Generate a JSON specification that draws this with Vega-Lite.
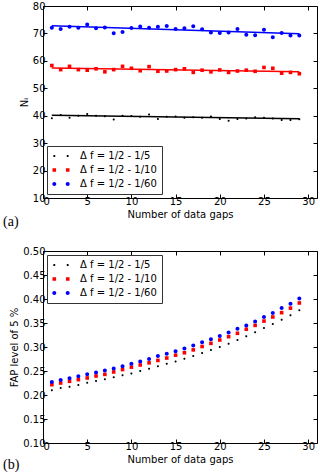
{
  "$schema": "https://vega.github.io/schema/vega-lite/v6.json",
  "padding": {"left": 2, "top": 0, "right": 0, "bottom": 0},
  "background": "white",
  "config": {
    "font": "DejaVu Sans",
    "view": {"stroke": "black", "strokeWidth": 1},
    "axis": {"labelFont": "DejaVu Sans", "labelFontSize": 10, "labelColor": "black", "titleFont": "DejaVu Sans", "titleFontSize": 10, "titleFontWeight": "normal", "titleColor": "black", "domain": false, "grid": false, "tickColor": "black", "tickSize": -4, "labelPadding": 2, "titlePadding": 3},
    "legend": {"title": null, "offset": 4, "padding": 5, "strokeColor": "#333333", "fillColor": "white", "cornerRadius": 0, "rowPadding": 4, "labelFont": "DejaVu Sans", "labelFontSize": 10, "labelColor": "black", "symbolSize": 100, "symbolOpacity": 1, "symbolStrokeWidth": 0, "symbolOffset": 4, "labelOffset": 14},
    "title": {"font": "Liberation Serif", "fontSize": 14, "fontWeight": "normal", "color": "black"}
  },
  "datasets": {
    "ni": [
      {"x":1,"s":"1/5","v":39.1},{"x":2,"s":"1/5","v":40.3},{"x":3,"s":"1/5","v":39.3},{"x":4,"s":"1/5","v":40.0},{"x":5,"s":"1/5","v":40.6},{"x":6,"s":"1/5","v":40.0},{"x":7,"s":"1/5","v":39.8},{"x":8,"s":"1/5","v":38.6},{"x":9,"s":"1/5","v":40.0},{"x":10,"s":"1/5","v":39.9},{"x":11,"s":"1/5","v":39.6},{"x":12,"s":"1/5","v":40.4},{"x":13,"s":"1/5","v":38.8},{"x":14,"s":"1/5","v":39.6},{"x":15,"s":"1/5","v":39.7},{"x":16,"s":"1/5","v":39.3},{"x":17,"s":"1/5","v":39.4},{"x":18,"s":"1/5","v":39.3},{"x":19,"s":"1/5","v":39.7},{"x":20,"s":"1/5","v":38.8},{"x":21,"s":"1/5","v":38.2},{"x":22,"s":"1/5","v":38.8},{"x":23,"s":"1/5","v":39.0},{"x":24,"s":"1/5","v":39.4},{"x":25,"s":"1/5","v":39.3},{"x":26,"s":"1/5","v":39.0},{"x":27,"s":"1/5","v":38.4},{"x":28,"s":"1/5","v":38.4},{"x":29,"s":"1/5","v":38.7},
      {"x":1,"s":"1/10","v":58.3},{"x":2,"s":"1/10","v":56.8},{"x":3,"s":"1/10","v":58.0},{"x":4,"s":"1/10","v":56.8},{"x":5,"s":"1/10","v":56.6},{"x":6,"s":"1/10","v":57.1},{"x":7,"s":"1/10","v":56.0},{"x":8,"s":"1/10","v":56.8},{"x":9,"s":"1/10","v":58.0},{"x":10,"s":"1/10","v":57.3},{"x":11,"s":"1/10","v":56.4},{"x":12,"s":"1/10","v":57.9},{"x":13,"s":"1/10","v":56.2},{"x":14,"s":"1/10","v":56.3},{"x":15,"s":"1/10","v":56.8},{"x":16,"s":"1/10","v":57.1},{"x":17,"s":"1/10","v":55.8},{"x":18,"s":"1/10","v":56.6},{"x":19,"s":"1/10","v":56.0},{"x":20,"s":"1/10","v":56.7},{"x":21,"s":"1/10","v":55.8},{"x":22,"s":"1/10","v":56.3},{"x":23,"s":"1/10","v":56.6},{"x":24,"s":"1/10","v":56.2},{"x":25,"s":"1/10","v":57.6},{"x":26,"s":"1/10","v":57.3},{"x":27,"s":"1/10","v":55.5},{"x":28,"s":"1/10","v":55.8},{"x":29,"s":"1/10","v":55.3},
      {"x":1,"s":"1/60","v":72.1},{"x":2,"s":"1/60","v":71.6},{"x":3,"s":"1/60","v":72.4},{"x":4,"s":"1/60","v":72.1},{"x":5,"s":"1/60","v":73.3},{"x":6,"s":"1/60","v":71.9},{"x":7,"s":"1/60","v":72.2},{"x":8,"s":"1/60","v":70.1},{"x":9,"s":"1/60","v":70.5},{"x":10,"s":"1/60","v":72.0},{"x":11,"s":"1/60","v":72.5},{"x":12,"s":"1/60","v":72.1},{"x":13,"s":"1/60","v":72.4},{"x":14,"s":"1/60","v":72.7},{"x":15,"s":"1/60","v":71.6},{"x":16,"s":"1/60","v":71.9},{"x":17,"s":"1/60","v":72.6},{"x":18,"s":"1/60","v":71.5},{"x":19,"s":"1/60","v":70.3},{"x":20,"s":"1/60","v":70.2},{"x":21,"s":"1/60","v":70.3},{"x":22,"s":"1/60","v":71.6},{"x":23,"s":"1/60","v":69.5},{"x":24,"s":"1/60","v":69.3},{"x":25,"s":"1/60","v":71.3},{"x":26,"s":"1/60","v":68.6},{"x":27,"s":"1/60","v":70.2},{"x":28,"s":"1/60","v":69.2},{"x":29,"s":"1/60","v":69.2}
    ],
    "fit": [
      {"x":1,"s":"1/5","v":40.2},{"x":29,"s":"1/5","v":38.9},
      {"x":1,"s":"1/10","v":57.4},{"x":29,"s":"1/10","v":56.0},
      {"x":1,"s":"1/60","v":72.8},{"x":29,"s":"1/60","v":69.9}
    ],
    "fap": [
      {"x":1,"s":"1/5","v":0.2097},{"x":2,"s":"1/5","v":0.2146},{"x":3,"s":"1/5","v":0.2174},{"x":4,"s":"1/5","v":0.2208},{"x":5,"s":"1/5","v":0.2257},{"x":6,"s":"1/5","v":0.229},{"x":7,"s":"1/5","v":0.2326},{"x":8,"s":"1/5","v":0.2368},{"x":9,"s":"1/5","v":0.241},{"x":10,"s":"1/5","v":0.245},{"x":11,"s":"1/5","v":0.25},{"x":12,"s":"1/5","v":0.2549},{"x":13,"s":"1/5","v":0.2597},{"x":14,"s":"1/5","v":0.2653},{"x":15,"s":"1/5","v":0.27},{"x":16,"s":"1/5","v":0.2757},{"x":17,"s":"1/5","v":0.2813},{"x":18,"s":"1/5","v":0.2875},{"x":19,"s":"1/5","v":0.2937},{"x":20,"s":"1/5","v":0.3},{"x":21,"s":"1/5","v":0.307},{"x":22,"s":"1/5","v":0.3146},{"x":23,"s":"1/5","v":0.3222},{"x":24,"s":"1/5","v":0.3306},{"x":25,"s":"1/5","v":0.3396},{"x":26,"s":"1/5","v":0.348},{"x":27,"s":"1/5","v":0.357},{"x":28,"s":"1/5","v":0.366},{"x":29,"s":"1/5","v":0.3764},
      {"x":1,"s":"1/10","v":0.2215},{"x":2,"s":"1/10","v":0.225},{"x":3,"s":"1/10","v":0.2285},{"x":4,"s":"1/10","v":0.232},{"x":5,"s":"1/10","v":0.2355},{"x":6,"s":"1/10","v":0.2396},{"x":7,"s":"1/10","v":0.243},{"x":8,"s":"1/10","v":0.248},{"x":9,"s":"1/10","v":0.253},{"x":10,"s":"1/10","v":0.258},{"x":11,"s":"1/10","v":0.2625},{"x":12,"s":"1/10","v":0.267},{"x":13,"s":"1/10","v":0.272},{"x":14,"s":"1/10","v":0.277},{"x":15,"s":"1/10","v":0.283},{"x":16,"s":"1/10","v":0.288},{"x":17,"s":"1/10","v":0.294},{"x":18,"s":"1/10","v":0.301},{"x":19,"s":"1/10","v":0.3076},{"x":20,"s":"1/10","v":0.3146},{"x":21,"s":"1/10","v":0.3215},{"x":22,"s":"1/10","v":0.3285},{"x":23,"s":"1/10","v":0.337},{"x":24,"s":"1/10","v":0.345},{"x":25,"s":"1/10","v":0.354},{"x":26,"s":"1/10","v":0.3625},{"x":27,"s":"1/10","v":0.3715},{"x":28,"s":"1/10","v":0.381},{"x":29,"s":"1/10","v":0.3917},
      {"x":1,"s":"1/60","v":0.227},{"x":2,"s":"1/60","v":0.231},{"x":3,"s":"1/60","v":0.235},{"x":4,"s":"1/60","v":0.239},{"x":5,"s":"1/60","v":0.243},{"x":6,"s":"1/60","v":0.247},{"x":7,"s":"1/60","v":0.251},{"x":8,"s":"1/60","v":0.255},{"x":9,"s":"1/60","v":0.26},{"x":10,"s":"1/60","v":0.265},{"x":11,"s":"1/60","v":0.27},{"x":12,"s":"1/60","v":0.275},{"x":13,"s":"1/60","v":0.281},{"x":14,"s":"1/60","v":0.286},{"x":15,"s":"1/60","v":0.291},{"x":16,"s":"1/60","v":0.297},{"x":17,"s":"1/60","v":0.303},{"x":18,"s":"1/60","v":0.31},{"x":19,"s":"1/60","v":0.316},{"x":20,"s":"1/60","v":0.323},{"x":21,"s":"1/60","v":0.33},{"x":22,"s":"1/60","v":0.338},{"x":23,"s":"1/60","v":0.345},{"x":24,"s":"1/60","v":0.353},{"x":25,"s":"1/60","v":0.3625},{"x":26,"s":"1/60","v":0.371},{"x":27,"s":"1/60","v":0.381},{"x":28,"s":"1/60","v":0.39},{"x":29,"s":"1/60","v":0.401}
    ]
  },
  "bounds": "flush",
  "spacing": 53,
  "resolve": {"scale": {"color": "independent", "shape": "independent", "fill": "independent", "stroke": "independent"}, "legend": {"color": "independent", "shape": "independent", "fill": "independent", "stroke": "independent"}},
  "vconcat": [
    {
      "width": 274,
      "height": 192,
      "title": {"text": "(a)", "orient": "bottom", "anchor": "start", "frame": "group", "dx": -40, "offset": -4},
      "resolve": {"axis": {"x": "independent", "y": "independent"}, "scale": {"shape": "independent", "fill": "independent"}, "legend": {"shape": "independent", "fill": "independent"}},
      "layer": [
        {
          "data": {"name": "ni"},
          "mark": {"type": "point", "filled": true, "size": 16, "opacity": 1, "strokeWidth": 0},
          "encoding": {
            "x": {"field": "x", "type": "quantitative", "scale": {"domain": [0, 31], "nice": false}, "axis": {"values": [0, 5, 10, 15, 20, 25, 30], "title": "Number of data gaps"}},
            "y": {"field": "v", "type": "quantitative", "scale": {"domain": [10, 80], "nice": false, "zero": false}, "axis": {"values": [10, 20, 30, 40, 50, 60, 70, 80], "title": "Nᵢ", "format": "d"}},
            "color": {"field": "s", "type": "nominal", "scale": {"domain": ["1/5", "1/10", "1/60"], "range": ["#000000", "#ff0000", "#0000ff"]}, "legend": null},
            "shape": {"field": "s", "type": "nominal", "scale": {"domain": ["1/5", "1/10", "1/60"], "range": ["M-0.5,0A0.5,0.5,0,1,0,0.5,0A0.5,0.5,0,1,0,-0.5,0Z", "M-0.9,-0.9H0.9V0.9H-0.9Z", "M-1,0A1,1,0,1,0,1,0A1,1,0,1,0,-1,0Z"]}, "legend": null}
          }
        },
        {
          "data": {"name": "fit"},
          "mark": {"type": "line", "strokeWidth": 1.5},
          "encoding": {
            "x": {"field": "x", "type": "quantitative", "scale": {"domain": [0, 31], "nice": false}, "axis": null},
            "y": {"field": "v", "type": "quantitative", "scale": {"domain": [10, 80], "nice": false, "zero": false}, "axis": null},
            "stroke": {"field": "s", "type": "nominal", "scale": {"domain": ["1/5", "1/10", "1/60"], "range": ["#000000", "#ff0000", "#0000ff"]}, "legend": null}
          }
        },
        {
          "data": {"name": "ni"},
          "mark": {"type": "point", "filled": true, "opacity": 0},
          "encoding": {
            "x": {"field": "x", "type": "quantitative", "scale": {"domain": [0, 31], "nice": false}, "axis": {"orient": "top", "values": [0, 5, 10, 15, 20, 25, 30], "labels": false, "title": null}},
            "y": {"field": "v", "type": "quantitative", "scale": {"domain": [10, 80], "nice": false, "zero": false}, "axis": {"orient": "right", "values": [10, 20, 30, 40, 50, 60, 70, 80], "labels": false, "title": null}},
            "fill": {"field": "s", "type": "nominal", "scale": {"domain": ["1/5", "1/10", "1/60"], "range": ["#000000", "#ff0000", "#0000ff"]}, "legend": {"orient": "bottom-left", "labelExpr": "'Δ f = 1/2 - ' + datum.label"}},
            "shape": {"field": "s", "type": "nominal", "scale": {"domain": ["1/5", "1/10", "1/60"], "range": ["M-1.56,0A0.22,0.22,0,1,0,-1.12,0A0.22,0.22,0,1,0,-1.56,0ZM1.12,0A0.22,0.22,0,1,0,1.56,0A0.22,0.22,0,1,0,1.12,0Z", "M-1.7,-0.36H-0.98V0.36H-1.7ZM0.98,-0.36H1.7V0.36H0.98Z", "M-1.74,0A0.4,0.4,0,1,0,-0.94,0A0.4,0.4,0,1,0,-1.74,0ZM0.94,0A0.4,0.4,0,1,0,1.74,0A0.4,0.4,0,1,0,0.94,0Z"]}, "legend": {"orient": "bottom-left", "labelExpr": "'Δ f = 1/2 - ' + datum.label"}}
          }
        }
      ]
    },
    {
      "width": 274,
      "height": 192,
      "title": {"text": "(b)", "orient": "bottom", "anchor": "start", "frame": "group", "dx": -40, "offset": -6},
      "resolve": {"axis": {"x": "independent", "y": "independent"}, "scale": {"shape": "independent", "fill": "independent"}, "legend": {"shape": "independent", "fill": "independent"}},
      "layer": [
        {
          "data": {"name": "fap"},
          "mark": {"type": "point", "filled": true, "size": 16, "opacity": 1, "strokeWidth": 0},
          "encoding": {
            "x": {"field": "x", "type": "quantitative", "scale": {"domain": [0, 31], "nice": false}, "axis": {"values": [0, 5, 10, 15, 20, 25, 30], "title": "Number of data gaps"}},
            "y": {"field": "v", "type": "quantitative", "scale": {"domain": [0.1, 0.5], "nice": false, "zero": false}, "axis": {"values": [0.1, 0.15, 0.2, 0.25, 0.3, 0.35, 0.4, 0.45, 0.5], "title": "FAP level of 5 %", "format": ".2f"}},
            "color": {"field": "s", "type": "nominal", "scale": {"domain": ["1/5", "1/10", "1/60"], "range": ["#000000", "#ff0000", "#0000ff"]}, "legend": null},
            "shape": {"field": "s", "type": "nominal", "scale": {"domain": ["1/5", "1/10", "1/60"], "range": ["M-0.5,0A0.5,0.5,0,1,0,0.5,0A0.5,0.5,0,1,0,-0.5,0Z", "M-0.9,-0.9H0.9V0.9H-0.9Z", "M-1,0A1,1,0,1,0,1,0A1,1,0,1,0,-1,0Z"]}, "legend": null}
          }
        },
        {
          "data": {"name": "fap"},
          "mark": {"type": "point", "filled": true, "opacity": 0},
          "encoding": {
            "x": {"field": "x", "type": "quantitative", "scale": {"domain": [0, 31], "nice": false}, "axis": {"orient": "top", "values": [0, 5, 10, 15, 20, 25, 30], "labels": false, "title": null}},
            "y": {"field": "v", "type": "quantitative", "scale": {"domain": [0.1, 0.5], "nice": false, "zero": false}, "axis": {"orient": "right", "values": [0.1, 0.15, 0.2, 0.25, 0.3, 0.35, 0.4, 0.45, 0.5], "labels": false, "title": null}},
            "fill": {"field": "s", "type": "nominal", "scale": {"domain": ["1/5", "1/10", "1/60"], "range": ["#000000", "#ff0000", "#0000ff"]}, "legend": {"orient": "top-left", "labelExpr": "'Δ f = 1/2 - ' + datum.label"}},
            "shape": {"field": "s", "type": "nominal", "scale": {"domain": ["1/5", "1/10", "1/60"], "range": ["M-1.56,0A0.22,0.22,0,1,0,-1.12,0A0.22,0.22,0,1,0,-1.56,0ZM1.12,0A0.22,0.22,0,1,0,1.56,0A0.22,0.22,0,1,0,1.12,0Z", "M-1.7,-0.36H-0.98V0.36H-1.7ZM0.98,-0.36H1.7V0.36H0.98Z", "M-1.74,0A0.4,0.4,0,1,0,-0.94,0A0.4,0.4,0,1,0,-1.74,0ZM0.94,0A0.4,0.4,0,1,0,1.74,0A0.4,0.4,0,1,0,0.94,0Z"]}, "legend": {"orient": "top-left", "labelExpr": "'Δ f = 1/2 - ' + datum.label"}}
          }
        }
      ]
    }
  ]
}
